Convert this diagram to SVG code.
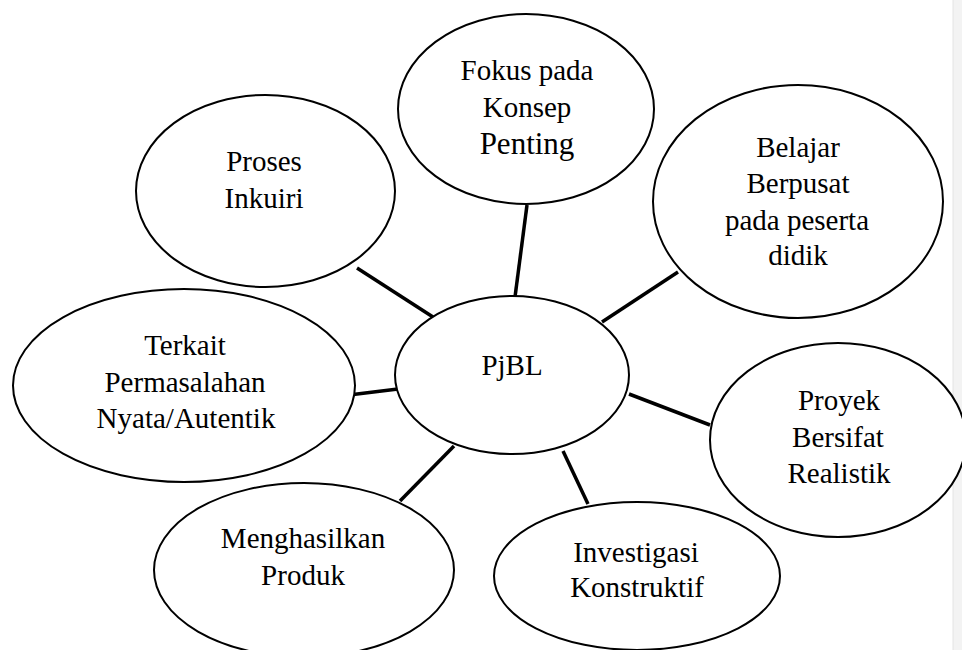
<svg xmlns="http://www.w3.org/2000/svg" width="962" height="650" viewBox="0 0 962 650">
<style>
.node ellipse { fill: #ffffff; stroke: #000000; stroke-width: 2; }
.node text { font-family: "Liberation Serif", "Times New Roman", serif; font-size: 29px; fill: #000000; text-anchor: middle; }
.conn line { stroke: #000000; stroke-width: 3.5; stroke-linecap: butt; }
</style>
<rect x="0" y="0" width="962" height="650" fill="#ffffff"/>
<rect x="953" y="0" width="9" height="650" fill="#f3f3f3"/>
<line x1="953" y1="0" x2="953" y2="650" stroke="#e4e4e4" stroke-width="1"/>
<g id="connectors" class="conn">
  <line x1="527" y1="205" x2="515" y2="297"/>
  <line x1="357" y1="268" x2="433" y2="317"/>
  <line x1="678" y1="272" x2="602" y2="322"/>
  <line x1="349" y1="395" x2="398" y2="389"/>
  <line x1="629" y1="394" x2="710" y2="425"/>
  <line x1="454" y1="446" x2="400" y2="501"/>
  <line x1="563" y1="451" x2="588" y2="504"/>
</g>
<g id="node-fokus" class="node">
  <ellipse cx="526" cy="109" rx="128" ry="95"/>
  <text x="527" y="80">Fokus pada</text>
  <text x="527" y="117">Konsep</text>
  <text x="527" y="154" style="font-size:31px">Penting</text>
</g>
<g id="node-proses" class="node">
  <ellipse cx="265.5" cy="191" rx="129.5" ry="96"/>
  <text x="264" y="171">Proses</text>
  <text x="264" y="208">Inkuiri</text>
</g>
<g id="node-belajar" class="node">
  <ellipse cx="798" cy="201.5" rx="145" ry="116.5"/>
  <text x="798" y="157">Belajar</text>
  <text x="798" y="193">Berpusat</text>
  <text x="797" y="230">pada peserta</text>
  <text x="798" y="265">didik</text>
</g>
<g id="node-terkait" class="node">
  <ellipse cx="184" cy="385.5" rx="171" ry="96.5"/>
  <text x="185" y="355">Terkait</text>
  <text x="185" y="392">Permasalahan</text>
  <text x="186" y="428">Nyata/Autentik</text>
</g>
<g id="node-pjbl" class="node">
  <ellipse cx="512" cy="375" rx="117" ry="79"/>
  <text x="512" y="375">PjBL</text>
</g>
<g id="node-proyek" class="node">
  <ellipse cx="838" cy="440" rx="128" ry="97"/>
  <text x="839" y="410">Proyek</text>
  <text x="838" y="447">Bersifat</text>
  <text x="839" y="483">Realistik</text>
</g>
<g id="node-menghasilkan" class="node">
  <ellipse cx="304" cy="570" rx="150" ry="87"/>
  <text x="303" y="548">Menghasilkan</text>
  <text x="303" y="585">Produk</text>
</g>
<g id="node-investigasi" class="node">
  <ellipse cx="637" cy="576" rx="143" ry="74"/>
  <text x="636" y="562">Investigasi</text>
  <text x="637" y="597">Konstruktif</text>
</g>
</svg>
